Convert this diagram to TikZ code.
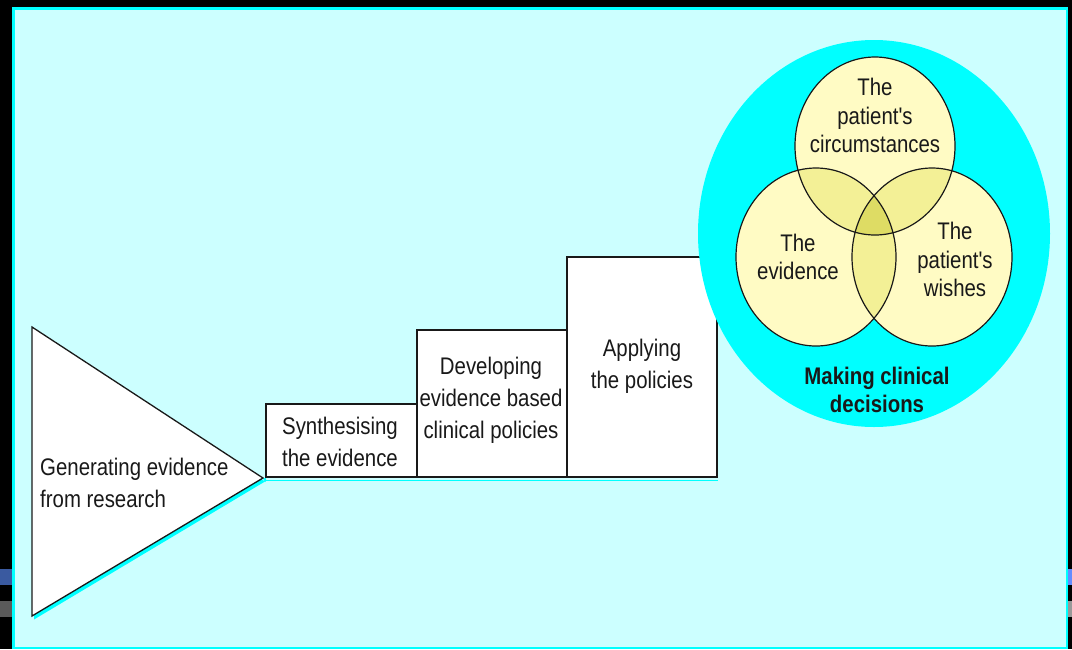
\documentclass[tikz,border=0pt]{standalone}
\usepackage{fontspec}
\setmainfont{Liberation Sans}[FakeStretch=0.85, Ligatures=TeXOff]
\definecolor{panel}{RGB}{204,255,255}
\definecolor{cyanbright}{RGB}{0,255,255}
\definecolor{vlight}{RGB}{255,251,196}
\definecolor{vmid}{RGB}{243,240,150}
\definecolor{vdark}{RGB}{222,220,100}
\definecolor{ink}{RGB}{25,25,25}
\definecolor{barblueL}{RGB}{58,90,160}
\definecolor{bargrayL}{RGB}{90,90,90}
\definecolor{barblueR}{RGB}{100,140,255}
\definecolor{bargrayR}{RGB}{153,153,153}
\tikzset{
  outline/.style={draw=ink, line width=1.3pt, line join=miter},
  lbl/.style={text=ink, inner sep=0pt, align=center, font=\fontsize{24}{32}\selectfont},
  vlbl/.style={text=ink, inner sep=0pt, align=center, font=\fontsize{24}{28.5}\selectfont},
}
\begin{document}
\begin{tikzpicture}[x=1pt,y=-1pt]
\useasboundingbox (0,0) rectangle (1072,649);
% background
\fill[black] (0,0) rectangle (1072,649);
\fill[panel] (12,7) rectangle (1068,649);
\draw[cyanbright, line width=2.5pt] (13.25,8.25) rectangle (1066.75,647.75);
\fill[barblueL] (0,569) rectangle (12,585);
\fill[bargrayL] (0,601) rectangle (12,617);
\fill[barblueR] (1068,569) rectangle (1072,585);
\fill[bargrayR] (1068,601) rectangle (1072,617);

% coordinates
\coordinate (t1) at (32,327);
\coordinate (t2) at (32,616);
\coordinate (tA) at (263,478);
\coordinate (b0) at (266,477);
\coordinate (b1) at (417,477);
\coordinate (b2) at (567,477);
\coordinate (b3) at (717,477);

% shadows
\fill[cyanbright] ([shift={(2,3.5)}]t1) -- ([shift={(2,3.5)}]t2) -- ([shift={(2,3.5)}]tA) -- cycle;
\fill[cyanbright] (266,480) rectangle (718,481);
\fill[cyanbright] (263,478) -- (266,478) -- (266,481) -- (265,482) -- cycle;

% triangle
\filldraw[outline, fill=white] (t1) -- (t2) -- (tA) -- cycle;
% boxes
\filldraw[outline, fill=white] (266,404) rectangle (b1);
\filldraw[outline, fill=white] (417,330) rectangle (b2);
\filldraw[outline, fill=white] (567,257) rectangle (b3);

% texts of the steps
\node[lbl, anchor=west, align=left] (gen) at (40,483) {Generating evidence\\from research};
\node[lbl] (syn) at (340,442) {Synthesising\\the evidence};
\node[lbl] (dev) at (491,400) {Developing\\evidence based\\clinical policies};
\node[lbl] (app) at (642,366) {Applying\\the policies};

% clinical decisions ellipse
\coordinate (cB) at (874,233.5);
\fill[cyanbright] (cB) ellipse [x radius=176, y radius=193.5];

\coordinate (cT) at (875,146);
\coordinate (cL) at (816,257);
\coordinate (cR) at (932,257);
\def\rx{80}\def\ry{89}
\fill[vlight] (cT) ellipse [x radius=\rx, y radius=\ry];
\fill[vlight] (cL) ellipse [x radius=\rx, y radius=\ry];
\fill[vlight] (cR) ellipse [x radius=\rx, y radius=\ry];
\begin{scope}
  \clip (cT) ellipse [x radius=\rx, y radius=\ry];
  \fill[vmid] (cL) ellipse [x radius=\rx, y radius=\ry];
  \fill[vmid] (cR) ellipse [x radius=\rx, y radius=\ry];
\end{scope}
\begin{scope}
  \clip (cL) ellipse [x radius=\rx, y radius=\ry];
  \fill[vmid] (cR) ellipse [x radius=\rx, y radius=\ry];
\end{scope}
\begin{scope}
  \clip (cL) ellipse [x radius=\rx, y radius=\ry];
  \clip (cR) ellipse [x radius=\rx, y radius=\ry];
  \fill[vdark] (cT) ellipse [x radius=\rx, y radius=\ry];
\end{scope}
\draw[draw=ink, line width=1.2pt] (cT) ellipse [x radius=\rx, y radius=\ry];
\draw[draw=ink, line width=1.2pt] (cL) ellipse [x radius=\rx, y radius=\ry];
\draw[draw=ink, line width=1.2pt] (cR) ellipse [x radius=\rx, y radius=\ry];

\node[vlbl] (circ) at (875,115.5) {The\\patient's\\circumstances};
\node[vlbl] (evid) at (798,257) {The\\evidence};
\node[vlbl] (wish) at (955,259.5) {The\\patient's\\wishes};
\node[vlbl, font=\fontsize{24}{28}\selectfont\bfseries] (mcd) at (877,390) {Making clinical\\decisions};
\end{tikzpicture}
\end{document}
